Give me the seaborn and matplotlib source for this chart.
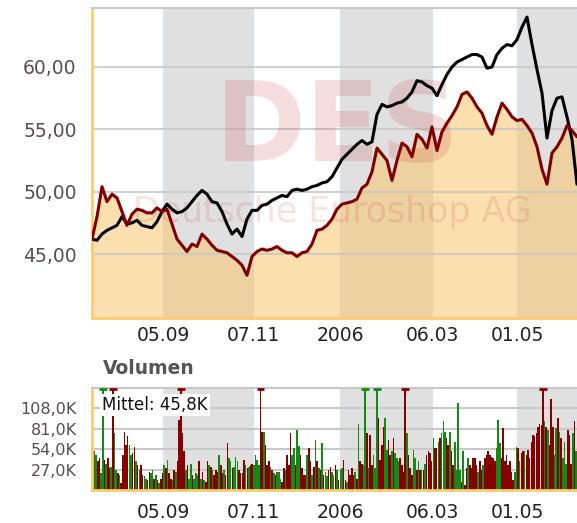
import numpy as np
import pandas as pd
import seaborn as sns
import matplotlib.pyplot as plt

# closing prices, one value every ~5 px (left edge -> cut-off right edge)
price_black = [46.2, 46.1, 46.6, 46.9, 47.1, 47.3, 48.0, 47.4, 47.5, 47.7,
               47.3, 47.2, 47.1, 47.6, 48.4, 49.0, 48.6, 48.3, 48.4, 48.7,
               49.2, 49.7, 50.1, 49.8, 49.2, 49.1, 48.4, 47.4, 46.6, 47.0,
               46.4, 47.8, 48.5, 48.5, 48.9, 49.0, 49.3, 49.5, 49.7, 49.6,
               50.1, 50.2, 50.1, 50.2, 50.4, 50.5, 50.7, 50.8, 51.2, 51.9,
               52.6, 53.0, 53.4, 53.8, 54.1, 53.8, 54.0, 56.2, 57.0, 56.8,
               56.9, 57.1, 57.2, 57.5, 58.0, 58.9, 58.8, 58.5, 58.3, 57.7,
               58.6, 59.4, 60.0, 60.4, 60.6, 60.8, 61.0, 61.0, 60.8, 59.9,
               60.0, 61.0, 61.5, 61.8, 61.7, 62.2, 63.2, 64.0, 61.8, 59.8,
               57.9, 54.3, 56.5, 57.5, 57.6, 56.0, 54.2, 50.6]
price_red = [46.2, 48.0, 50.4, 49.2, 49.8, 49.5, 48.4, 47.3, 48.2, 48.6,
             48.5, 48.3, 48.3, 48.7, 48.4, 48.6, 47.4, 46.2, 45.7, 45.2,
             45.8, 45.6, 46.6, 46.2, 45.7, 45.3, 45.2, 45.1, 44.8, 44.5,
             44.1, 43.3, 44.8, 45.2, 45.4, 45.3, 45.4, 45.6, 45.3, 45.1,
             45.1, 44.8, 45.1, 45.2, 45.8, 46.9, 47.0, 47.3, 47.8, 48.6,
             49.0, 49.1, 49.2, 49.4, 50.3, 50.6, 51.6, 53.5, 53.0, 52.5,
             50.9, 52.5, 53.9, 53.6, 52.8, 54.6, 54.2, 53.5, 55.2, 53.3,
             54.8, 55.5, 56.1, 56.8, 57.8, 58.0, 57.5, 56.8, 56.3, 55.3,
             54.6, 56.0, 57.1, 56.6, 56.0, 55.7, 55.8, 55.3, 54.7, 53.6,
             51.8, 50.6, 53.1, 53.6, 54.3, 55.3, 54.9, 54.4]

tick_pos = [14.2, 32.2, 49.6, 68.0, 85.0]
tick_labels = ["05.09", "07.11", "2006", "06.03", "01.05"]
bands = [(14.2, 32.2), (49.6, 68.0), (85.0, 97.0)]

# daily volume in thousands, and day colour (g = up, r = down)
vol_k = [51, 51, 46, 38, 42, 22, 140, 40, 35, 42,
         29, 31, 140, 75, 27, 22, 20, 9, 46, 77,
         60, 71, 60, 46, 49, 57, 38, 33, 27, 33,
         20, 18, 15, 13, 24, 22, 27, 15, 20, 13,
         9, 15, 22, 33, 29, 40, 22, 15, 13, 27,
         24, 38, 93, 140, 75, 51, 27, 33, 15, 35,
         20, 15, 22, 20, 38, 15, 24, 13, 11, 38,
         33, 31, 27, 20, 27, 24, 46, 33, 22, 27,
         20, 62, 42, 38, 29, 31, 44, 38, 27, 22,
         22, 40, 33, 29, 31, 33, 35, 33, 46, 40,
         33, 140,
         77, 77, 60, 33, 38, 31, 27, 22, 20, 24,
         24, 15, 11, 29, 27, 46, 33, 75, 46, 55,
         33, 80, 58, 46, 29, 20, 20, 46, 55, 38,
         20, 31, 66, 38, 29, 27, 62, 20, 24, 18,
         27, 31, 24, 20, 33, 27,
         13, 27, 29, 40, 13, 11, 27, 20, 29, 20,
         24, 15, 88, 38, 35, 33, 140, 75, 29, 73,
         33, 46, 29, 140, 95, 40, 60, 84, 95, 53,
         66, 46, 51, 69, 49, 42, 38, 42, 33, 24,
         140, 75, 46, 29, 20, 53, 42, 27, 38, 27,
         27, 27, 35, 46, 51, 49, 38, 69, 55, 55,
         64, 69, 75, 91, 77, 69, 60, 77, 51, 33,
         64, 27, 115, 27, 11, 51, 7, 29, 42, 33,
         29, 42, 42, 33, 24, 38, 27, 33, 42, 46,
         51, 46, 44, 42, 38, 55, 93, 62, 42, 82,
         38, 46, 33, 38, 24, 13, 24, 57, 55, 38,
         49, 51, 51, 46, 53, 42, 64, 73, 71, 75,
         84, 88, 86, 140, 91, 84, 80, 60, 120, 84,
         46, 82, 95, 77, 69, 42, 64, 35, 80, 73,
         35, 75, 91, 51]
vol_dir = list("rggrrggrgr" "rgrggrgrrr" "rrggrrgrgr" "rggrrggrgr"
               "grrgrgrrgr" "grrrrrgrgg" "rgggrgrgrr" "grgrrrgrrg"
               "rrggrgggrr" "rrgrgrrggg" "gr"
               "rgrrrgrgrg" "ggrrgrrrgg" "rggrrrrgrr" "grgrgrgrgg" "rrggrg"
               "rggrrgrrrr" "grgrrggrgr" "rgggrrrrgg" "rrgrgggrrr"
               "rgrrrggrgr" "grgrrrrgrr" "grgggrrgrr" "ggggrgrrgr"
               "rrrrgrrgrr" "rrrrrgggrr" "rrrrrrggrg" "rrgrrrrrrr"
               "rrrrgrgrrr" "ggrgrgggrr" "rgrg")

sns.set_style("white")
plt.rcParams['font.family'] = ['DejaVu Sans']

ORANGE = '#ffca70'
GRID = '#c8c8c8'
DARKRED = '#800000'
VGREEN = '#128a14'
VRED = '#870000'

fig = plt.figure(figsize=(5.77, 5.23), dpi=100)
ax = fig.add_axes([92/577, 1 - 318/523, 485/577, 310/523])
ax2 = fig.add_axes([92/577, 1 - 490/523, 485/577, 102/523])

days = np.arange(len(price_black))
df = pd.DataFrame({'day': days, 'black': price_black, 'red': price_red})
ymin, ymax = 39.87, 64.73

for a in (ax, ax2):
    for lo, hi in bands:
        a.axvspan(lo, hi, color='#e0e0e0', lw=0, zorder=0)
        a.axvline(lo, color='#d8e6f0', lw=1, zorder=0.5)
        a.axvline(hi, color='#d8e6f0', lw=1, zorder=0.5)

# price panel
ax.fill_between(days, price_red, ymin, color='#f9c56e',
                alpha=0.55, lw=0, zorder=1)
for y in [45, 50, 55, 60]:
    ax.axhline(y, color=GRID, lw=1.5, alpha=0.85, zorder=1.5)
ax.text(0.254, 0.606, 'DES', transform=ax.transAxes, fontsize=79,
        fontweight='bold', color='#c83030', alpha=0.16, va='center', zorder=2)
ax.text(0.0845, 0.342, 'Deutsche Euroshop AG', transform=ax.transAxes,
        fontsize=25, color='#c83030', alpha=0.14, va='center', zorder=2)
sns.lineplot(data=df, x='day', y='black', color='black', lw=2.2, ax=ax, zorder=3)
sns.lineplot(data=df, x='day', y='red', color=DARKRED, lw=2.2, ax=ax, zorder=3)

ax.set_xlim(0, 97)
ax.set_ylim(ymin, ymax)
ax.set_yticks([45, 50, 55, 60])
ax.set_yticklabels(['45,00', '50,00', '55,00', '60,00'])
ax.set_xticks(tick_pos)
ax.set_xticklabels(tick_labels)
ax.tick_params(axis='y', length=0, pad=11, labelsize=13.5, labelcolor='#574d52')
ax.tick_params(axis='x', length=0, pad=6, labelsize=13.5, labelcolor='#222222')
ax.set_xlabel('')
ax.set_ylabel('')

# volume panel
n = len(vol_k)
vol_x = (np.arange(n) + 0.5) * 97 / n
dfv = pd.DataFrame({'x': vol_x, 'vol': vol_k, 'dir': vol_dir})
for y in [27, 54, 81, 108]:
    ax2.axhline(y, color=GRID, lw=1.5, zorder=0.6)
sns.barplot(data=dfv, x='x', y='vol', hue='dir',
            palette={'g': VGREEN, 'r': VRED}, native_scale=True,
            width=0.95, dodge=False, errorbar=None, saturation=1,
            legend=False, ax=ax2, zorder=2, linewidth=0, edgecolor='none')
clipped = dfv[dfv['vol'] > 135]
ax2.scatter(clipped['x'], [134] * len(clipped), marker='_', s=30, lw=2,
            c=[VGREEN if d == 'g' else VRED for d in clipped['dir']],
            zorder=4, clip_on=False)

ax2.set_xlim(0, 97)
ax2.set_ylim(0, 135)
ax2.set_yticks([27, 54, 81, 108])
ax2.set_yticklabels(['27,0K', '54,0K', '81,0K', '108,0K'])
ax2.set_xticks(tick_pos)
ax2.set_xticklabels(tick_labels)
ax2.tick_params(axis='y', length=0, pad=11, labelsize=11.5, labelcolor='#574d52')
ax2.tick_params(axis='x', length=0, pad=9, labelsize=13.5, labelcolor='#222222')
ax2.set_xlabel('')
ax2.set_ylabel('')

for a in (ax, ax2):
    a.spines['right'].set_visible(False)
    a.spines['left'].set_color(ORANGE)
    a.spines['left'].set_linewidth(2)
    a.spines['bottom'].set_color(ORANGE)
    a.spines['bottom'].set_linewidth(2)
    a.spines['top'].set_color(GRID)
    a.spines['top'].set_linewidth(1.5)

fig.text(103/577, 1 - 368/523, 'Volumen', fontsize=13.5, fontweight='bold',
         color='#555555', va='center')
fig.text(102/577, 1 - 405/523, 'Mittel: 45,8K', fontsize=12, va='center',
         color='#111111', bbox=dict(fc='white', ec='none', pad=1.5))

plt.savefig('out.png', dpi=100)
